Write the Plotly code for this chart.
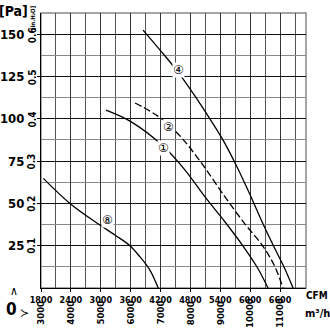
import plotly.graph_objects as go

# ---- data ----
cfm_ticks = [1800, 2400, 3000, 3600, 4200, 4800, 5400, 6000, 6600]
m3h_ticks = [3000, 4000, 5000, 6000, 7000, 8000, 9000, 10000, 11000, 12000]
pa_ticks = [25, 50, 75, 100, 125, 150]
inh2o_ticks = [0.1, 0.2, 0.3, 0.4, 0.5, 0.6]

c1_cfm = [3105, 3587, 4250, 4692, 5093, 5495, 5856, 6137, 6358]
c1_pa = [105.1, 98.6, 83.9, 69.7, 53.8, 39.0, 24.8, 12.4, 0]

c2_cfm = [3688, 3989, 4230, 4591, 4993, 5495, 5896, 6238, 6479, 6659]
c2_pa = [109.3, 104.5, 99.8, 89.8, 75.0, 53.8, 37.8, 25.4, 13.6, 0]

c4_cfm = [3848, 4190, 4551, 4892, 5194, 5455, 5736, 6017, 6258, 6479, 6679, 6860]
c4_pa = [152.4, 140.6, 127.6, 113.4, 99.8, 87.4, 71.5, 53.8, 37.8, 24.2, 12.4, 0]

c8_cfm = [1847, 2381, 2983, 3284, 3585, 3785, 3986, 4153]
c8_pa = [64.8, 50.0, 37.2, 31.3, 25.0, 18.5, 10.6, 0]

curve_names = ["①", "②", "④", "⑧"]
label_cfm = [4250, 4350, 4551, 3125]
label_pa = [82.7, 95.1, 128.8, 40.2]

FONT = "Liberation Sans Narrow, DejaVu Sans Condensed, Arial Narrow, sans-serif"

fig = go.Figure()
for xs, ys, dash in [(c1_cfm, c1_pa, "solid"), (c2_cfm, c2_pa, "7px,3px"),
                     (c4_cfm, c4_pa, "solid"), (c8_cfm, c8_pa, "solid")]:
    fig.add_trace(go.Scatter(x=xs, y=ys, mode="lines",
                             line=dict(color="black", width=1.3, shape="spline", dash=dash),
                             showlegend=False, hoverinfo="skip"))

fig.update_layout(width=330, height=328, margin=dict(l=41, r=24, t=13, b=40),
                  plot_bgcolor="white", paper_bgcolor="white")

fig.update_xaxes(range=[1800, 7120], tickvals=cfm_ticks, ticks="outside", ticklen=3,
                 tickcolor="black", automargin=False,
                 tickfont=dict(family=FONT, size=9, color="black", weight="bold"),
                 showgrid=True, gridcolor="#333", gridwidth=1,
                 minor=dict(dtick=300, tick0=1800, showgrid=True, gridcolor="#555", gridwidth=1),
                 showline=True, linecolor="black", linewidth=1, zeroline=False)
fig.update_yaxes(range=[0, 162.5], tickvals=pa_ticks, ticks="outside", ticklen=3,
                 tickcolor="black", ticklabelstandoff=10, automargin=False,
                 tickfont=dict(family=FONT, size=13, color="black", weight="bold"),
                 showgrid=True, gridcolor="#111", gridwidth=1,
                 minor=dict(dtick=12.5, tick0=0, showgrid=True, gridcolor="#888", gridwidth=1),
                 showline=True, linecolor="black", linewidth=1, zeroline=False)

fig.add_shape(type="rect", xref="paper", yref="paper", x0=0, y0=0, x1=1, y1=1,
              line=dict(color="#888", width=1.5), layer="between")

# in.H2O secondary labels
for v in inh2o_ticks:
    fig.add_annotation(x=0, xref="paper", xshift=-9, y=v * 249, yref="y",
                       xanchor="center", yanchor="middle",
                       text=f"{v:.1f}", textangle=-90, showarrow=False,
                       font=dict(family=FONT, size=10, color="black", weight="bold"))

# m3/h secondary labels
for v in m3h_ticks:
    fig.add_annotation(x=v * 0.6, xref="x", y=-0.09, yref="paper",
                       xanchor="center", yanchor="middle",
                       text=str(v), textangle=-90, showarrow=False,
                       font=dict(family=FONT, size=9.5, color="black", weight="bold"))

# curve labels
for t, x, y in zip(curve_names, label_cfm, label_pa):
    fig.add_annotation(x=x, y=y, text=t, showarrow=False, bgcolor="white", borderpad=0,
                       xanchor="center", yanchor="middle",
                       font=dict(family="DejaVu Sans", size=12, color="black"))

texts = [
    ("[Pa]", -0.102, 1.0073, 0, 14, True),
    ("[in.H₂O]", -0.030, 0.982, -90, 6, True),
    ("∧", -0.102, -0.011, 0, 12, False),
    ("0", -0.113, -0.076, 0, 17, True),
    ("≻", -0.064, -0.091, 0, 12, False),
    ("CFM", 1.0415, -0.029, 0, 10, True),
    ("m³/h", 1.045, -0.091, 0, 11, True),
]
for t, x, y, ang, sz, bold in texts:
    fig.add_annotation(x=x, y=y, xref="paper", yref="paper", text=t, textangle=ang,
                       showarrow=False, xanchor="center", yanchor="middle",
                       font=dict(family=FONT, size=sz, color="black",
                                 weight="bold" if bold else "normal"))

fig.write_html("out.html")
